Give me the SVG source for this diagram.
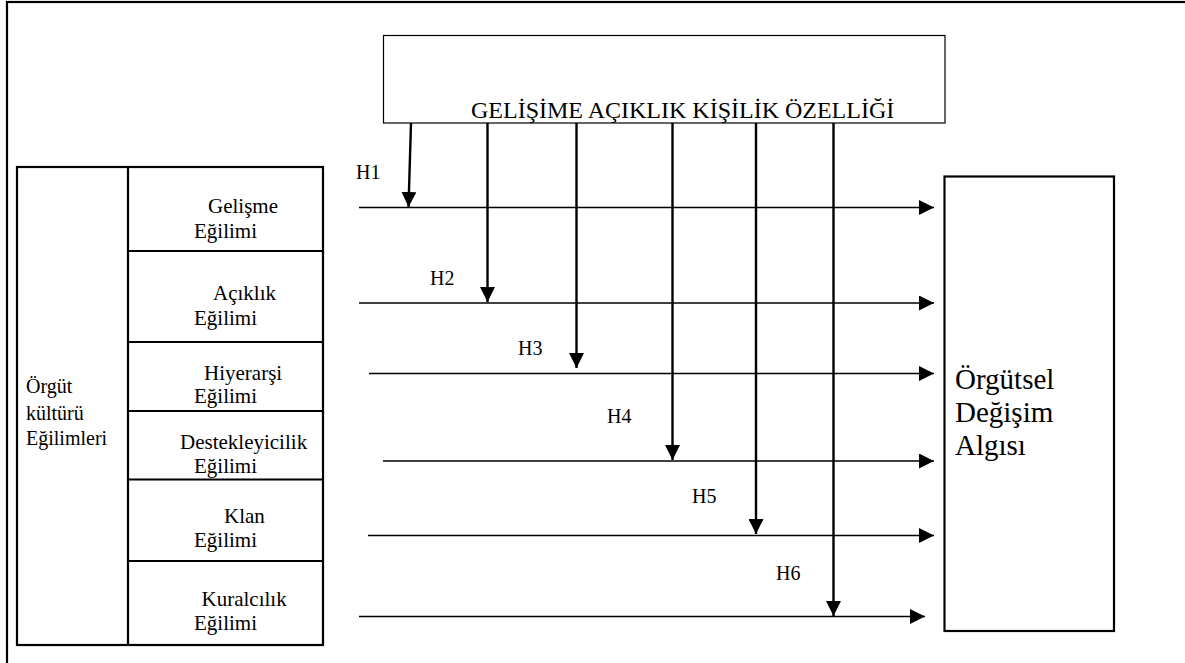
<svg xmlns="http://www.w3.org/2000/svg" width="1185" height="663" viewBox="0 0 1185 663" font-family="'Liberation Serif', 'DejaVu Serif', 'Times New Roman', serif">
  <style>
    text { font-family: "Liberation Serif", "DejaVu Serif", "Times New Roman", serif; fill: #000; }
    .box { fill: #fff; stroke: #000; }
    .thin { stroke-width: 1.2; }
    .thick { stroke-width: 2.2; }
    .row { font-size: 21px; }
    .lbl { font-size: 20px; }
    .flow { stroke: #000; stroke-width: 1.4; fill: none; marker-end: url(#headR); }
    .mod { stroke: #000; stroke-width: 2.4; fill: none; marker-end: url(#headD); }
  </style>
  <defs>
    <marker id="headR" viewBox="0 0 15 15" refX="15" refY="7.5" markerWidth="15" markerHeight="15" markerUnits="userSpaceOnUse" orient="auto">
      <path d="M0,0 L15,7.5 L0,15 Z" fill="#000"/>
    </marker>
    <marker id="headD" viewBox="0 0 15 15" refX="15" refY="7.5" markerWidth="15" markerHeight="15" markerUnits="userSpaceOnUse" orient="auto">
      <path d="M0,0 L15,7.5 L0,15 Z" fill="#000"/>
    </marker>
  </defs>

  <rect width="1185" height="663" fill="#fff"/>

  <!-- page frame -->
  <rect id="frame" x="7" y="2" width="1200" height="700" fill="none" stroke="#000" stroke-width="2.2"/>

  <!-- moderator -->
  <g id="moderator">
    <rect class="box thin" x="383.5" y="35.5" width="561.5" height="87.5"/>
    <text x="471" y="118" font-size="24" font-family="'Liberation Serif', serif">GELİŞİME AÇIKLIK KİŞİLİK ÖZELLİĞİ</text>
  </g>

  <!-- culture table -->
  <g id="culture">
    <rect class="box thick" x="17" y="167" width="306" height="478"/>
    <line x1="128" y1="167" x2="128" y2="645" stroke="#000" stroke-width="2.2"/>
    <text class="lbl" x="26" y="393">Örgüt</text>
    <text class="lbl" x="26" y="420">kültürü</text>
    <text class="lbl" x="26" y="445">Eğilimleri</text>
  </g>

  <g id="row-gelisme">
    <line x1="128" y1="251" x2="323" y2="251" stroke="#000" stroke-width="2.2"/>
    <text class="row" x="208" y="213">Gelişme</text>
    <text class="row" x="194" y="238">Eğilimi</text>
  </g>
  <g id="row-aciklik">
    <line x1="128" y1="342" x2="323" y2="342" stroke="#000" stroke-width="2.2"/>
    <text class="row" x="213" y="300">Açıklık</text>
    <text class="row" x="194" y="325">Eğilimi</text>
  </g>
  <g id="row-hiyerarsi">
    <line x1="128" y1="411" x2="323" y2="411" stroke="#000" stroke-width="2.2"/>
    <text class="row" x="204" y="380">Hiyerarşi</text>
    <text class="row" x="194" y="403">Eğilimi</text>
  </g>
  <g id="row-destekleyicilik">
    <line x1="128" y1="479.5" x2="323" y2="479.5" stroke="#000" stroke-width="2.2"/>
    <text class="row" x="180" y="449">Destekleyicilik</text>
    <text class="row" x="194" y="472.5">Eğilimi</text>
  </g>
  <g id="row-klan">
    <line x1="128" y1="561" x2="323" y2="561" stroke="#000" stroke-width="2.2"/>
    <text class="row" x="224" y="522.5">Klan</text>
    <text class="row" x="194" y="546.5">Eğilimi</text>
  </g>
  <g id="row-kuralcilik">
    <text class="row" x="201.5" y="606">Kuralcılık</text>
    <text class="row" x="194" y="630">Eğilimi</text>
  </g>

  <!-- outcome -->
  <g id="outcome">
    <rect class="box thick" x="944.5" y="176.5" width="169.5" height="454.5"/>
    <text x="955" y="389" font-size="29">Örgütsel</text>
    <text x="955" y="421.5" font-size="29">Değişim</text>
    <text x="955" y="455" font-size="29">Algısı</text>
  </g>

  <!-- connectors -->
  <g id="connectors">
    <line class="flow" x1="359" y1="207.5" x2="934" y2="207.5"/>
    <line class="flow" x1="359" y1="303" x2="934" y2="303"/>
    <line class="flow" x1="369" y1="373.5" x2="934" y2="373.5"/>
    <line class="flow" x1="383" y1="461" x2="934" y2="461"/>
    <line class="flow" x1="368" y1="535.5" x2="934" y2="535.5"/>
    <line class="flow" x1="359" y1="616.5" x2="925" y2="616.5"/>

    <line class="mod" x1="411" y1="123" x2="408.5" y2="207"/>
    <line class="mod" x1="487.5" y1="123" x2="487.5" y2="302"/>
    <line class="mod" x1="576.5" y1="123" x2="576.5" y2="368"/>
    <line class="mod" x1="672.5" y1="123" x2="672.5" y2="460"/>
    <line class="mod" x1="756" y1="123" x2="756" y2="534"/>
    <line class="mod" x1="833.5" y1="123" x2="833.5" y2="616"/>

    <text class="lbl" x="356" y="179">H1</text>
    <text class="lbl" x="430" y="285">H2</text>
    <text class="lbl" x="518" y="355">H3</text>
    <text class="lbl" x="607" y="423">H4</text>
    <text class="lbl" x="692" y="503">H5</text>
    <text class="lbl" x="776" y="580">H6</text>
  </g>
</svg>
